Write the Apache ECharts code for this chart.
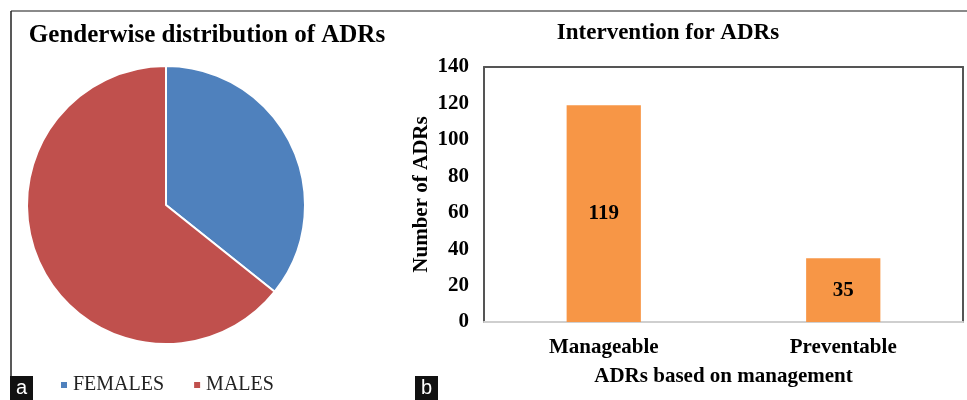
<!DOCTYPE html>
<html>
<head>
<meta charset="utf-8">
<script src="https://cdn.jsdelivr.net/npm/echarts@6/dist/echarts.min.js"></script>
<style>
    html, body { margin: 0; padding: 0; background: #fff; }
    #main { width: 967px; height: 400px; }
</style>
</head>
<body>
<div id="main"></div>
<script>
// 饼图数据
let genders = ['FEMALES', 'MALES'];
let genderCounts = [55, 99];
// 柱状图数据
let categories = ['Manageable', 'Preventable'];
let adrCounts = [119, 35];
let yTicks = { min: 0, max: 140, interval: 20 };

let serif = 'Liberation Serif';

let chartDom = document.getElementById('main');
let myChart = echarts.init(chartDom);
let option;

option = {
    animation: false,
    title: [
        {
            text: 'Genderwise distribution of ADRs',
            left: 202,
            top: 18,
            textAlign: 'center',
            textStyle: { fontFamily: serif, fontWeight: 'bold', fontSize: 25, color: '#000' }
        },
        {
            text: 'Intervention for ADRs',
            left: 663,
            top: 17,
            textAlign: 'center',
            textStyle: { fontFamily: serif, fontWeight: 'bold', fontSize: 23, color: '#000' }
        }
    ],
    legend: {
        data: genders,
        left: 54,
        top: 370,
        itemWidth: 8,
        itemHeight: 8,
        itemGap: 28,
        icon: 'rect',
        textStyle: { fontFamily: serif, fontSize: 20, color: '#222' }
    },
    grid: {
        left: 484,
        top: 67,
        width: 479,
        height: 255
    },
    xAxis: [
        {
            type: 'category',
            data: categories,
            name: 'ADRs based on management',
            nameLocation: 'middle',
            nameGap: 44,
            nameTextStyle: { fontFamily: serif, fontWeight: 'bold', fontSize: 21, color: '#000' },
            axisLine: { onZero: false, lineStyle: { color: '#cfcfcf', width: 2 } },
            axisTick: { show: false },
            axisLabel: { fontFamily: serif, fontWeight: 'bold', fontSize: 21, color: '#000', margin: 15 }
        },
        {
            type: 'category',
            data: categories,
            position: 'top',
            axisLine: { onZero: false, lineStyle: { color: '#555', width: 2 } },
            axisTick: { show: false },
            axisLabel: { show: false }
        }
    ],
    yAxis: [
        {
            type: 'value',
            min: yTicks.min,
            max: yTicks.max,
            interval: yTicks.interval,
            name: 'Number of ADRs',
            nameLocation: 'middle',
            nameGap: 52,
            nameTextStyle: { fontFamily: serif, fontWeight: 'bold', fontSize: 21, color: '#000' },
            axisLine: { show: true, lineStyle: { color: '#555', width: 2 } },
            axisTick: { show: false },
            splitLine: { show: false },
            axisLabel: { fontFamily: serif, fontWeight: 'bold', fontSize: 21, color: '#000', margin: 15 }
        },
        {
            type: 'value',
            min: yTicks.min,
            max: yTicks.max,
            interval: yTicks.interval,
            position: 'right',
            axisLine: { show: true, lineStyle: { color: '#555', width: 2 } },
            axisTick: { show: false },
            splitLine: { show: false },
            axisLabel: { show: false }
        }
    ],
    series: [
        {
            name: 'Gender',
            type: 'pie',
            center: [166, 205],
            radius: 139,
            startAngle: 90,
            clockwise: true,
            label: { show: false },
            labelLine: { show: false },
            itemStyle: { borderColor: '#fff', borderWidth: 2 },
            color: ['#4f81bd', '#c0504d'],
            data: genders.map((g, i) => ({ name: g, value: genderCounts[i] }))
        },
        {
            name: 'ADRs',
            type: 'bar',
            xAxisIndex: 0,
            yAxisIndex: 0,
            barWidth: '31%',
            itemStyle: { color: '#f79646' },
            label: {
                show: true,
                position: 'inside',
                fontFamily: serif,
                fontWeight: 'bold',
                fontSize: 21,
                color: '#000'
            },
            data: adrCounts
        }
    ],
    // 外框线和 a / b 标记
    graphic: [
        { type: 'line', shape: { x1: 11, y1: 11, x2: 967, y2: 11 }, style: { stroke: '#8a8a8a', lineWidth: 2 } },
        { type: 'line', shape: { x1: 11, y1: 11, x2: 11, y2: 400 }, style: { stroke: '#222', lineWidth: 1.5 } },
        { type: 'rect', shape: { x: 10, y: 376, width: 23, height: 24 }, style: { fill: '#111' } },
        { type: 'text', x: 21.5, y: 388, style: { text: 'a', fill: '#fff', font: '20px "Liberation Sans"', align: 'center', verticalAlign: 'middle' } },
        { type: 'rect', shape: { x: 415, y: 376, width: 23, height: 24 }, style: { fill: '#111' } },
        { type: 'text', x: 426.5, y: 388, style: { text: 'b', fill: '#fff', font: '20px "Liberation Sans"', align: 'center', verticalAlign: 'middle' } }
    ]
};

option && myChart.setOption(option);
</script>
</body>
</html>
